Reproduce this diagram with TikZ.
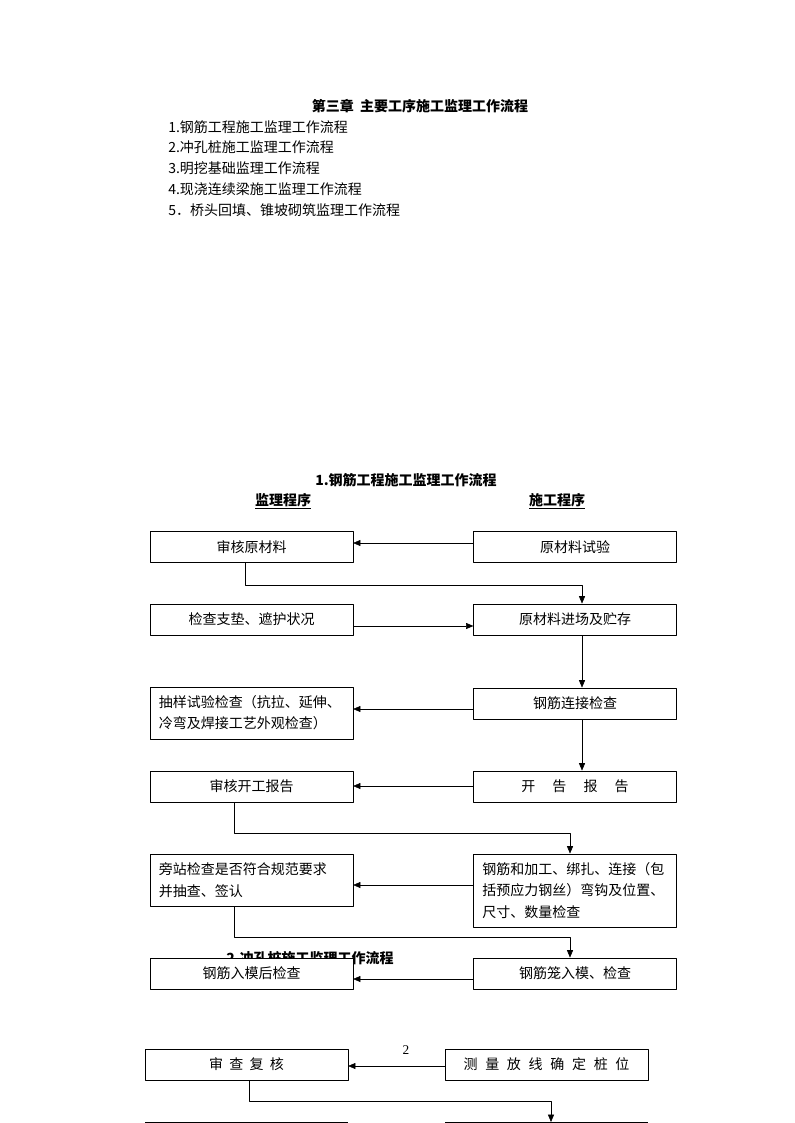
\documentclass[tikz,border=0pt]{standalone}
\usepackage{fontspec}
\setmainfont{Noto Sans CJK SC}
\newfontfamily\numfont{Liberation Serif}
\usetikzlibrary{arrows.meta,calc}
\begin{document}
\begin{tikzpicture}[x=0.75pt,y=-0.75pt,line join=round,font=\fontsize{10.5pt}{16pt}\selectfont,
	box/.style={draw,fill=white,minimum width=152pt,minimum height=23.5pt,inner sep=2pt},
	tall/.style={box,text width=139pt,align=left,inner xsep=6.5pt},
	arr/.style={-{Triangle[length=5.5pt,width=4.5pt]}},
	hd/.style={font=\fontsize{10.5pt}{12pt}\selectfont\bfseries}]
	\useasboundingbox[fill=white] (0,0) rectangle (794,1123);
	% headings and list
	\node[hd] (ch) at (420,106) {第三章\ \ 主要工序施工监理工作流程};
	\foreach \t [count=\i] in {1.钢筋工程施工监理工作流程,2.冲孔桩施工监理工作流程,3.明挖基础监理工作流程,4.现浇连续梁施工监理工作流程,5．桥头回填、锥坡砌筑监理工作流程}
		{\node[anchor=west,inner sep=0pt] (li\i) at (168,106+20.8*\i) {\t};}
	\node[hd] (t1) at (406,480) {1.钢筋工程施工监理工作流程};
	\node[hd] (jl) at (283,501) {\underline{监理程序}};
	\node[hd] (sg) at (557,501) {\underline{施工程序}};
	\node[hd] (t2) at (310,958) {2.冲孔桩施工监理工作流程};
	\node[font=\numfont\fontsize{10pt}{12pt}\selectfont] (pg) at (406,1050) {2};
	% left column
	\node[box] (l1) at (251.5,547) {审核原材料};
	\node[box] (l2) at (251.5,619.5) {检查支垫、遮护状况};
	\node[tall,minimum height=39pt] (l3) at (251.5,713) {抽样试验检查（抗拉、延伸、\\冷弯及焊接工艺外观检查）};
	\node[box] (l4) at (251.5,786.5) {审核开工报告};
	\node[tall,minimum height=39pt] (l5) at (251.5,880) {旁站检查是否符合规范要求\\并抽查、签认};
	\node[box] (l6) at (251.5,973.5) {钢筋入模后检查};
	% right column
	\node[box] (r1) at (575,547) {原材料试验};
	\node[box] (r2) at (575,619.5) {原材料进场及贮存};
	\node[box] (r3) at (575,703.5) {钢筋连接检查};
	\node[box] (r4) at (575,786.5) {开\quad\ 告\quad\ 报\quad\ 告};
	\node[tall,minimum height=55pt] (r5) at (575,890.5) {钢筋和加工、绑扎、连接（包\\括预应力钢丝）弯钩及位置、\\尺寸、数量检查};
	\node[box] (r6) at (575,973.5) {钢筋笼入模、检查};
	% connectors
	\draw[arr] (r1.west |- 0,543) -- (l1.east |- 0,543);
	\draw[arr] (l1.south -| 245,0) -- (245,585) -- (582,585) -- (r2.north -| 582,0);
	\draw[arr] (l2.east |- 0,626) -- (r2.west |- 0,626);
	\draw[arr] (r2.south -| 582,0) -- (r3.north -| 582,0);
	\draw[arr] (r3.west |- 0,709) -- (l3.east |- 0,709);
	\draw[arr] (r3.south -| 582,0) -- (r4.north -| 582,0);
	\draw[arr] (r4.west |- 0,786) -- (l4.east |- 0,786);
	\draw[arr] (l4.south -| 234,0) -- (234,833) -- (570,833) -- (r5.north -| 570,0);
	\draw[arr] (r5.west |- 0,885) -- (l5.east |- 0,885);
	\draw[arr] (l5.south -| 234,0) -- (234,937) -- (570,937) -- (r6.north -| 570,0);
	\draw[arr] (r6.west |- 0,979) -- (l6.east |- 0,979);
	% second chart (top of page 2)
	\node[box] (b1) at (246.5,1064.5) {审\ \ 查\ \ 复\ \ 核};
	\node[box] (b2) at (546.5,1064.5) {测\hspace{0.55em}量\hspace{0.55em}放\hspace{0.55em}线\hspace{0.55em}确\hspace{0.55em}定\hspace{0.55em}桩\hspace{0.55em}位};
	\coordinate (c1) at (145,1122);
	\coordinate (c2) at (445,1122);
	\draw[arr] (b2.west |- 0,1066) -- (b1.east |- 0,1066);
	\draw[arr] (b1.south -| 249,0) -- (249,1101) -- (551,1101) -- (551,1122);
	\draw (c1) -- ++(203,0) (c2) -- ++(203,0);
\end{tikzpicture}
\end{document}
